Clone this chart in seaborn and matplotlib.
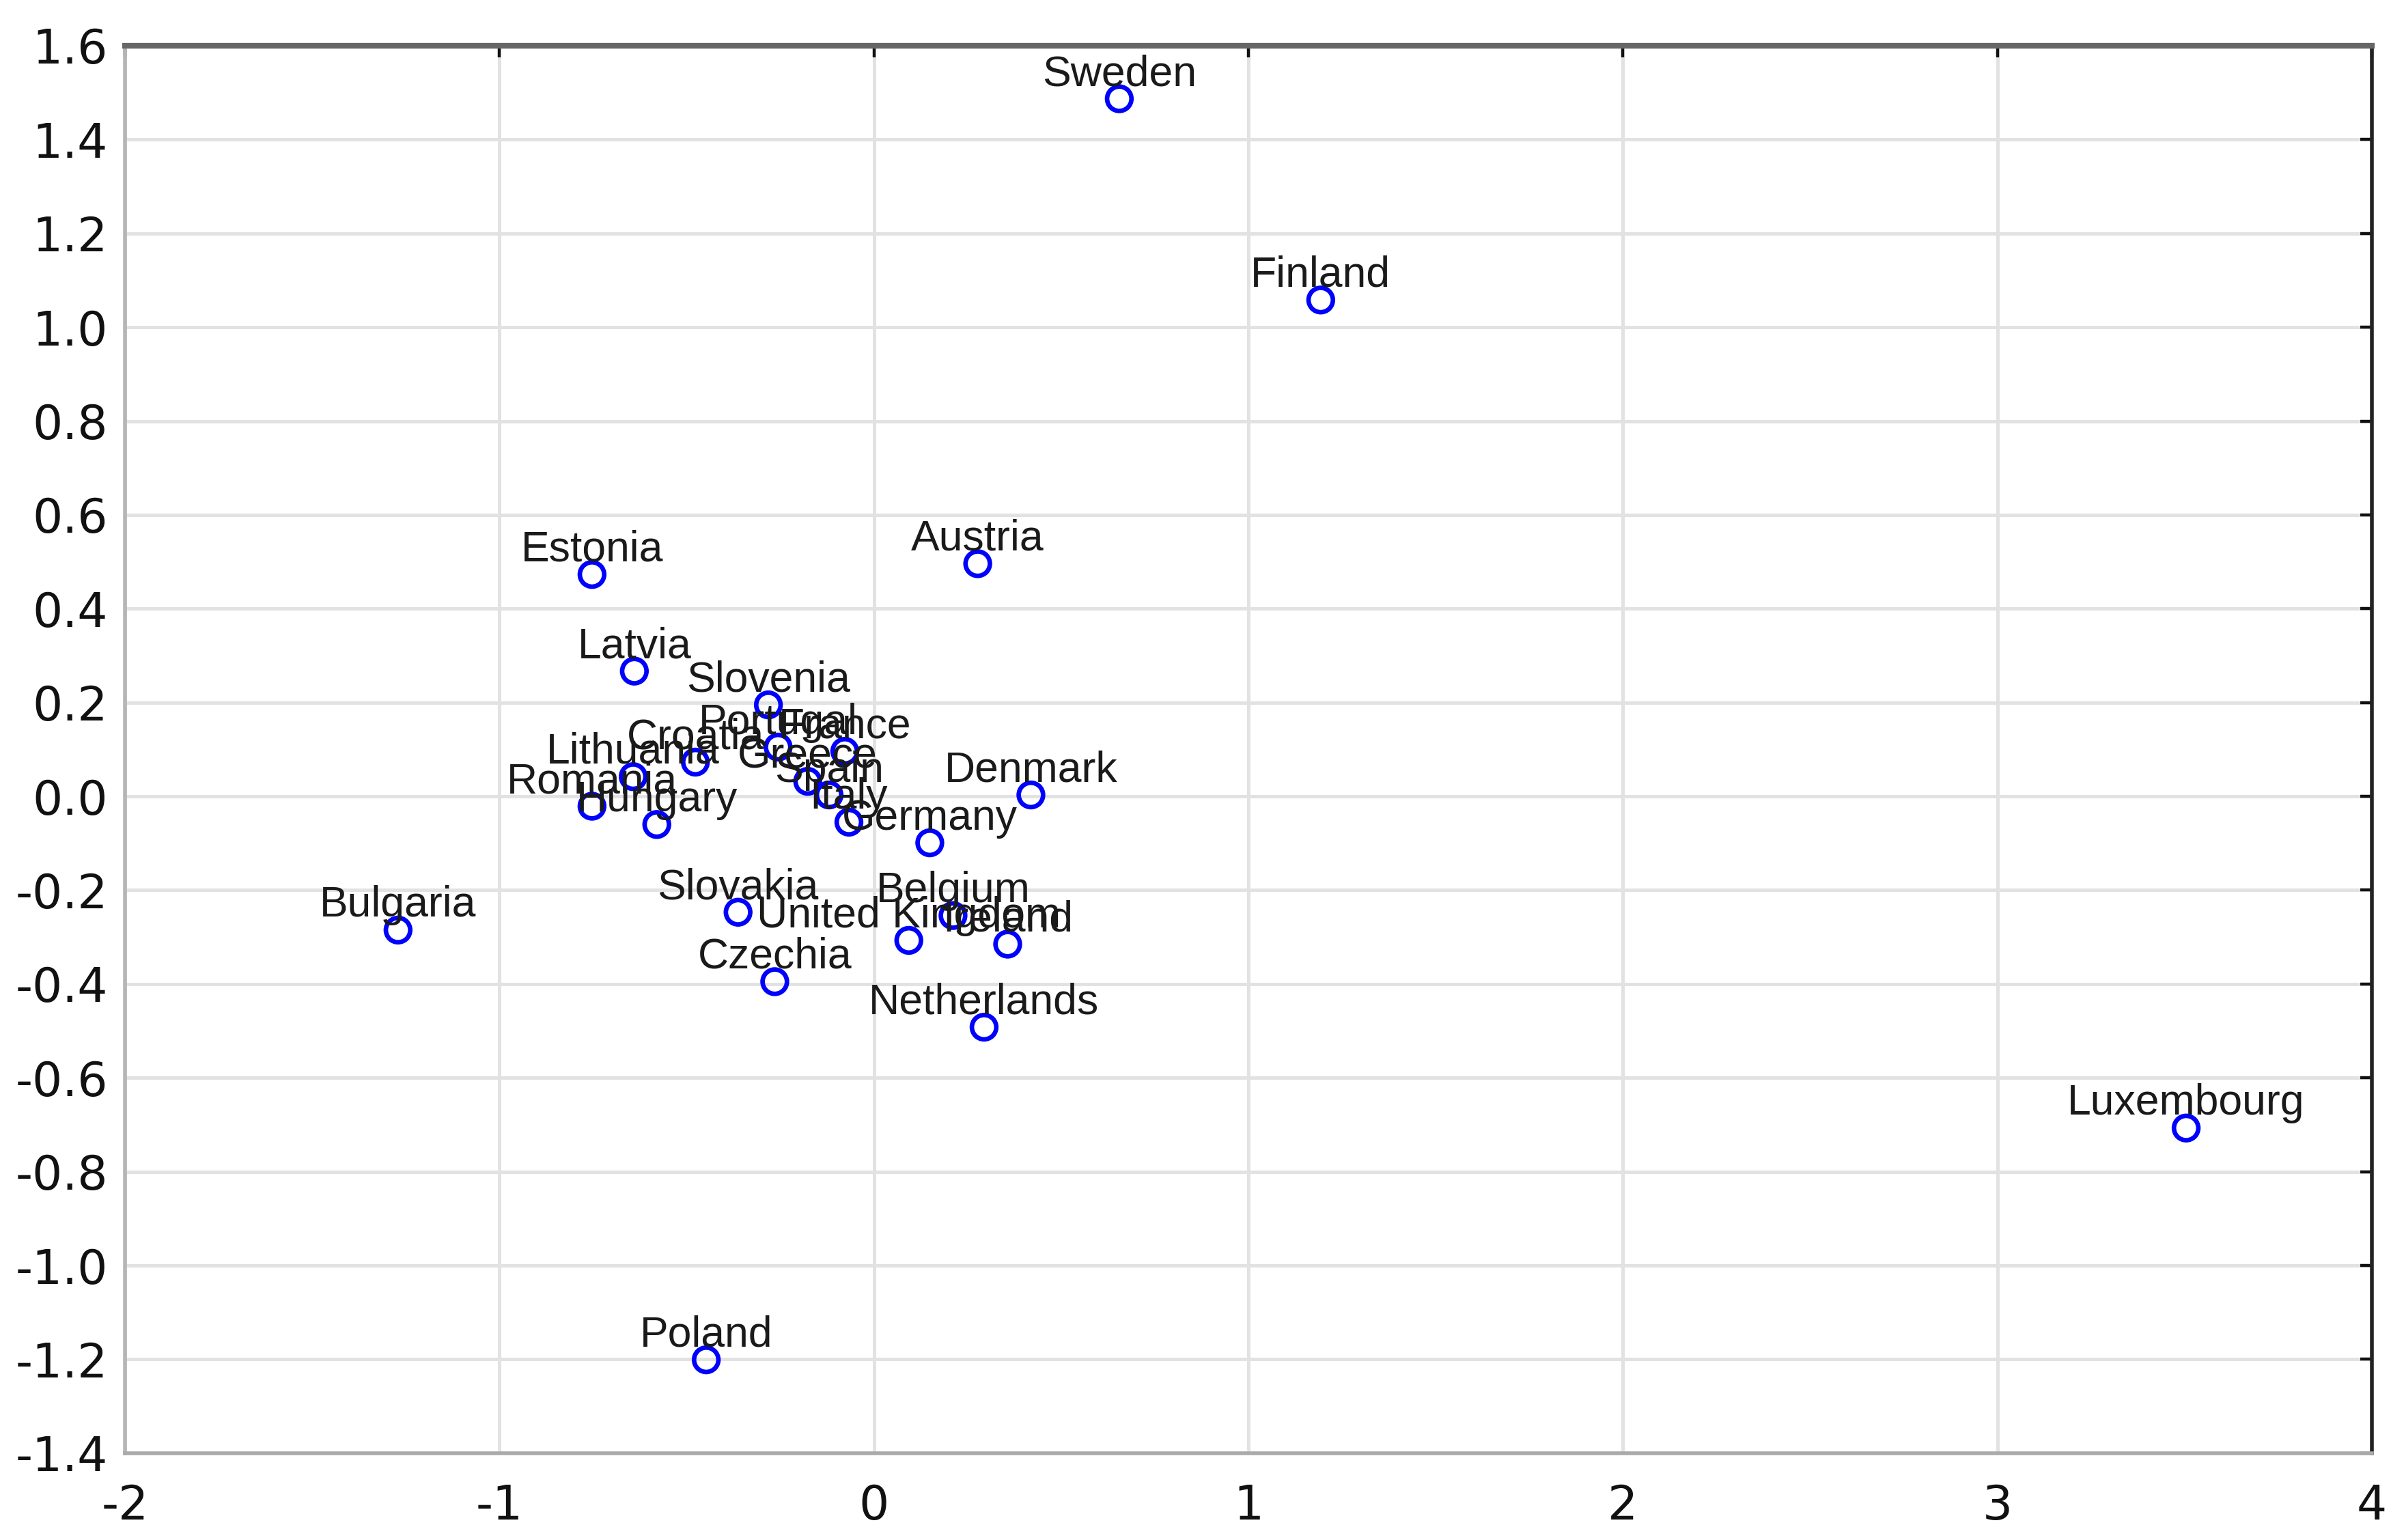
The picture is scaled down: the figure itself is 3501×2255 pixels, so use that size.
import matplotlib
matplotlib.use('Agg')
import matplotlib.pyplot as plt
import seaborn as sns
import pandas as pd

# values (two-dimensional map of EU countries)
countries = ['Sweden', 'Finland', 'Austria', 'Estonia', 'Latvia', 'Slovenia',
             'Portugal', 'France', 'Croatia', 'Lithuania', 'Greece', 'Spain',
             'Italy', 'Romania', 'Hungary', 'Denmark', 'Germany', 'Bulgaria',
             'Slovakia', 'Czechia', 'United Kingdom', 'Belgium', 'Ireland',
             'Netherlands', 'Luxembourg', 'Poland']
dim1 = [0.655, 1.193, 0.277, -0.753, -0.640, -0.282,
        -0.256, -0.078, -0.477, -0.643, -0.177, -0.120,
        -0.067, -0.753, -0.580, 0.419, 0.149, -1.271,
        -0.363, -0.265, 0.093, 0.211, 0.357,
        0.294, 3.504, -0.448]
dim2 = [1.487, 1.058, 0.496, 0.473, 0.267, 0.195,
        0.105, 0.096, 0.073, 0.042, 0.032, 0.003,
        -0.055, -0.021, -0.060, 0.003, -0.099, -0.285,
        -0.247, -0.395, -0.307, -0.254, -0.315,
        -0.492, -0.707, -1.201]
xticks = [-2, -1, 0, 1, 2, 3, 4]
yticks = [-1.4, -1.2, -1.0, -0.8, -0.6, -0.4, -0.2, 0.0, 0.2, 0.4, 0.6, 0.8, 1.0, 1.2, 1.4, 1.6]

df = pd.DataFrame({'country': countries, 'x': dim1, 'y': dim2})

sns.set_style('white')
plt.rcParams['font.family'] = ['DejaVu Sans']
plt.rcParams['axes.unicode_minus'] = False

fig = plt.figure(figsize=(17.505, 11.275), dpi=200)
ax = fig.add_axes([0.0523, 0.0564, 0.9397, 0.9139])

sns.scatterplot(data=df, x='x', y='y', ax=ax, marker='o', s=165,
                color='#0000ff', facecolor='none', edgecolor='#0000ff',
                linewidth=2.4, zorder=3)
ax.collections[0].set_facecolor('none')

# country names sit just above their point
for _, r in df.iterrows():
    ax.annotate(r['country'], (r['x'], r['y']), xytext=(0, 7),
                textcoords='offset points', ha='center', va='baseline',
                fontsize=22.5, family='Liberation Sans', color='#1a1a1a', zorder=4)

ax.set_xlim(-2, 4)
ax.set_ylim(-1.4, 1.6)
ax.set_xticks(xticks)
ax.set_yticks(yticks)
ax.set_xticklabels([str(t) for t in xticks])
ax.set_yticklabels(['%.1f' % t for t in yticks])
ax.set_xlabel('')
ax.set_ylabel('')

ax.grid(True, color='#e2e2e2', linewidth=1.8, zorder=0)
ax.set_axisbelow(True)

ax.tick_params(axis='both', direction='in', length=6, width=1.6, color='#111111',
               top=True, right=True, labelsize=25, labelcolor='#111111')
ax.tick_params(axis='x', pad=16)
ax.tick_params(axis='y', pad=9)

ax.spines['top'].set_color('#666666')
ax.spines['top'].set_linewidth(3.0)
ax.spines['left'].set_color('#b5b5b5')
ax.spines['left'].set_linewidth(2.0)
ax.spines['right'].set_color('#222222')
ax.spines['right'].set_linewidth(2.0)
ax.spines['bottom'].set_color('#aaaaaa')
ax.spines['bottom'].set_linewidth(2.0)

plt.savefig('out.png', dpi=200)
